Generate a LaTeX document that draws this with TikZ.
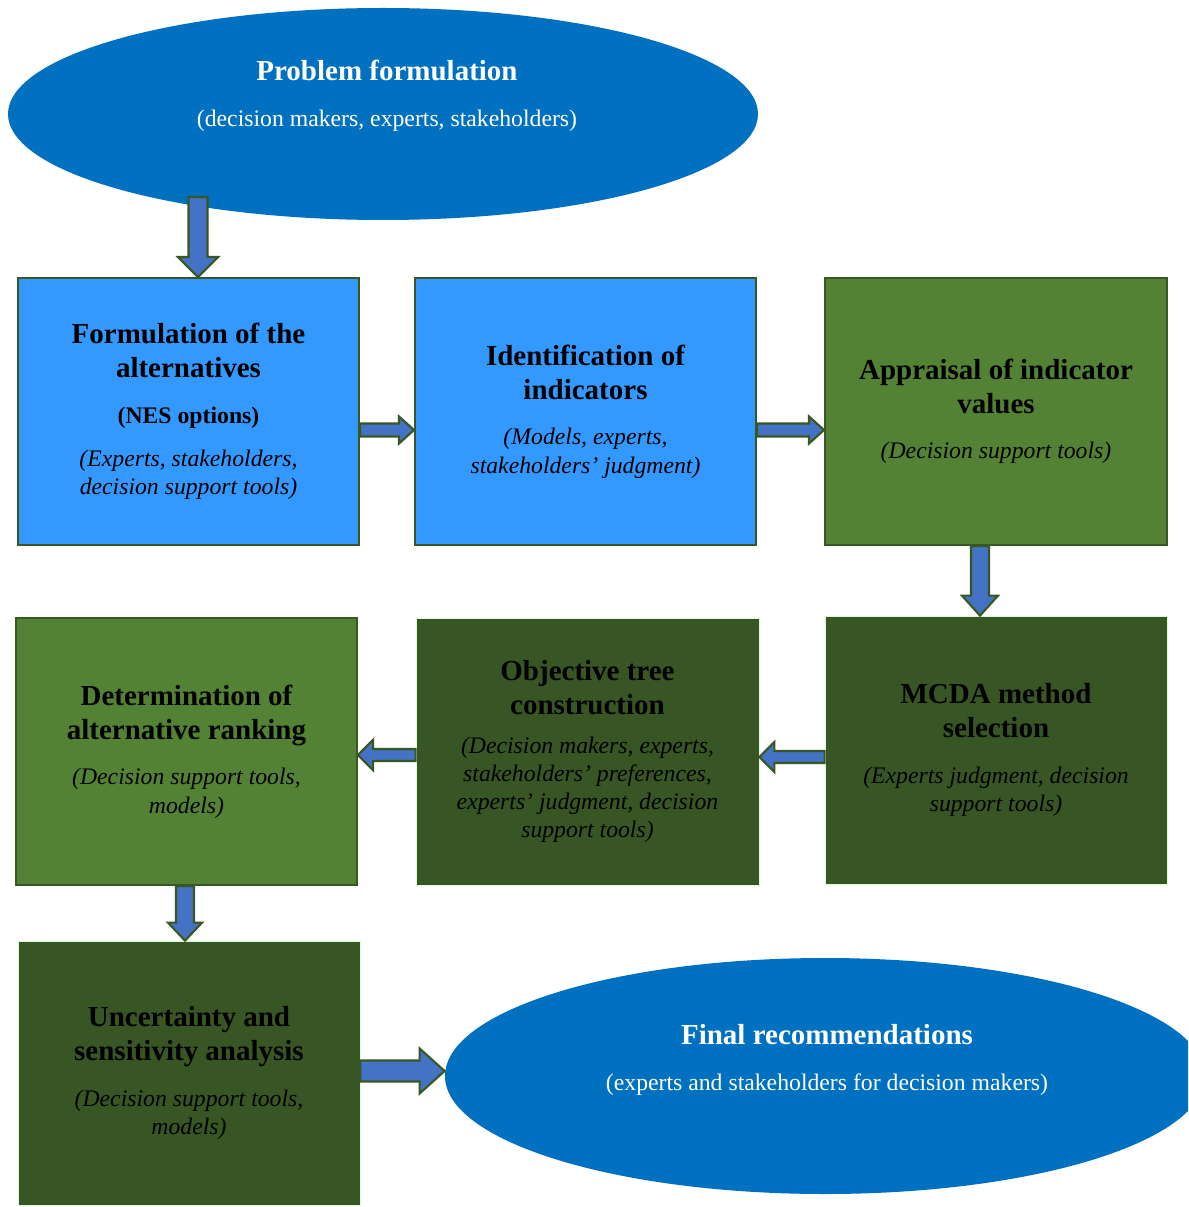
\documentclass[tikz,border=0pt]{standalone}
\usepackage{fontspec}
\setmainfont{Liberation Serif}
\usepackage{tikz}
\usetikzlibrary{shapes.geometric,calc}

\definecolor{ovalblue}{HTML}{0070C0}
\definecolor{lightblue}{HTML}{3399FF}
\definecolor{midgreen}{HTML}{548235}
\definecolor{darkgreen}{HTML}{375623}
\definecolor{arrowblue}{HTML}{4472C4}
\definecolor{edgegreen}{HTML}{385723}

\newcommand{\ttl}{\fontsize{16.5}{16}\selectfont\bfseries}
\newcommand{\sub}{\fontsize{13.5}{16}\selectfont\itshape}

% block arrow: from, to, half shaft, half head, head length
\newcommand{\blockarrow}[5]{%
  \draw[blockarr] let \p1=#1, \p2=#2, \n1={atan2(\y2-\y1,\x2-\x1)} in
    ($(\p1)+(\n1+90:#3)$) -- ($(\p2)+(\n1:-#5)+(\n1+90:#3)$)
    -- ($(\p2)+(\n1:-#5)+(\n1+90:#4)$) -- (\p2)
    -- ($(\p2)+(\n1:-#5)+(\n1-90:#4)$) -- ($(\p2)+(\n1:-#5)+(\n1-90:#3)$)
    -- ($(\p1)+(\n1-90:#3)$) -- cycle;}

\tikzset{
  stagebox/.style={rectangle, minimum width=6.82cm, minimum height=5.34cm,
    align=center, inner sep=0pt, font=\fontsize{13.5}{16}\selectfont},
  lightbox/.style={stagebox, fill=lightblue, draw=edgegreen, line width=1.1pt},
  greenbox/.style={stagebox, fill=midgreen, draw=edgegreen, line width=1.1pt},
  darkbox/.style={stagebox, fill=darkgreen, draw=green!15!white, line width=0.4pt},
  oval/.style={ellipse, fill=ovalblue, inner sep=0pt},
  ovaltext/.style={align=center, text=white, font=\fontsize{13.5}{16}\selectfont},
  blockarr/.style={fill=arrowblue, draw=edgegreen, line width=1.2pt, line join=miter}
}

\begin{document}
\begin{tikzpicture}
\clip (0,0) rectangle (23.76,-24.14);
\fill[white] (0,0) rectangle (23.76,-24.14);

% start and end
\node[oval, minimum width=15cm, minimum height=4.24cm] (prob) at (7.66,-2.28) {};
\node[ovaltext] (probtxt) at (7.74,-1.92) {{\ttl Problem formulation}\\[10.5pt](decision makers, experts, stakeholders)};
\node[oval, minimum width=15.2cm, minimum height=4.72cm] (final) at (16.5,-21.52) {};
\node[ovaltext] (finaltxt) at (16.54,-21.2) {{\ttl Final recommendations}\\[10.5pt](experts and stakeholders for decision makers)};

% first row
\node[lightbox] (formalt) at (3.77,-8.23) {{\ttl Formulation of the}\\[3.3pt]{\ttl alternatives}\\[10pt]%
  {\fontsize{13.5}{16}\selectfont\bfseries (NES options)}\\[8.5pt]{\sub (Experts, stakeholders,}\\{\sub decision support tools)}};
\node[lightbox] (ident) at (11.71,-8.23) {{\ttl Identification of}\\[3.3pt]{\ttl indicators}\\[10pt]%
  {\sub (Models, experts,}\\{\sub stakeholders' judgment)}};
\node[greenbox, minimum width=6.84cm] (apprais) at (19.92,-8.23) {{\ttl Appraisal of indicator}\\[3.3pt]{\ttl values}\\[10pt]%
  {\sub (Decision support tools)}};

% second row
\node[darkbox, minimum width=6.84cm, minimum height=5.36cm] (mcda) at (19.92,-15.0) {{\ttl MCDA method}\\[3.3pt]{\ttl selection}\\[10pt]%
  {\sub (Experts judgment, decision}\\{\sub support tools)}};
\node[darkbox, minimum width=6.86cm] (objtree) at (11.75,-15.03) {{\ttl Objective tree}\\[3.3pt]{\ttl construction}\\[6.5pt]%
  {\sub (Decision makers, experts,}\\{\sub stakeholders' preferences,}\\{\sub experts' judgment, decision}\\{\sub support tools)}};
\node[greenbox] (determ) at (3.73,-15.03) {{\ttl Determination of}\\[3.3pt]{\ttl alternative ranking}\\[10pt]%
  {\sub (Decision support tools,}\\{\sub models)}};

% third row
\node[darkbox, minimum width=6.84cm, minimum height=5.28cm] (uncert) at (3.78,-21.46) {{\ttl Uncertainty and}\\[3.3pt]{\ttl sensitivity analysis}\\[10pt]%
  {\sub (Decision support tools,}\\{\sub models)}};

% arrows
\blockarrow{([shift={(0.19,1.6)}]formalt.north)}{([xshift=0.19cm]formalt.north)}{0.19cm}{0.4cm}{0.4cm}
\blockarrow{([yshift=-0.37cm]formalt.east)}{([yshift=-0.37cm]ident.west)}{0.13cm}{0.27cm}{0.3cm}
\blockarrow{([yshift=-0.37cm]ident.east)}{([yshift=-0.37cm]apprais.west)}{0.13cm}{0.27cm}{0.3cm}
\blockarrow{([xshift=-0.32cm]apprais.south)}{([xshift=-0.32cm]mcda.north)}{0.18cm}{0.36cm}{0.4cm}
\blockarrow{([yshift=-0.14cm]mcda.west)}{([yshift=-0.14cm]objtree.east |- mcda.west)}{0.12cm}{0.3cm}{0.3cm}
\blockarrow{([yshift=-0.07cm]objtree.west)}{([yshift=-0.07cm]determ.east)}{0.12cm}{0.3cm}{0.3cm}
\blockarrow{([xshift=-0.03cm]determ.south)}{([xshift=-0.03cm]determ.south |- uncert.north)}{0.18cm}{0.34cm}{0.36cm}
\blockarrow{([yshift=0.04cm]uncert.east)}{([yshift=0.04cm]final.west |- uncert.east)}{0.21cm}{0.45cm}{0.5cm}
\end{tikzpicture}
\end{document}
